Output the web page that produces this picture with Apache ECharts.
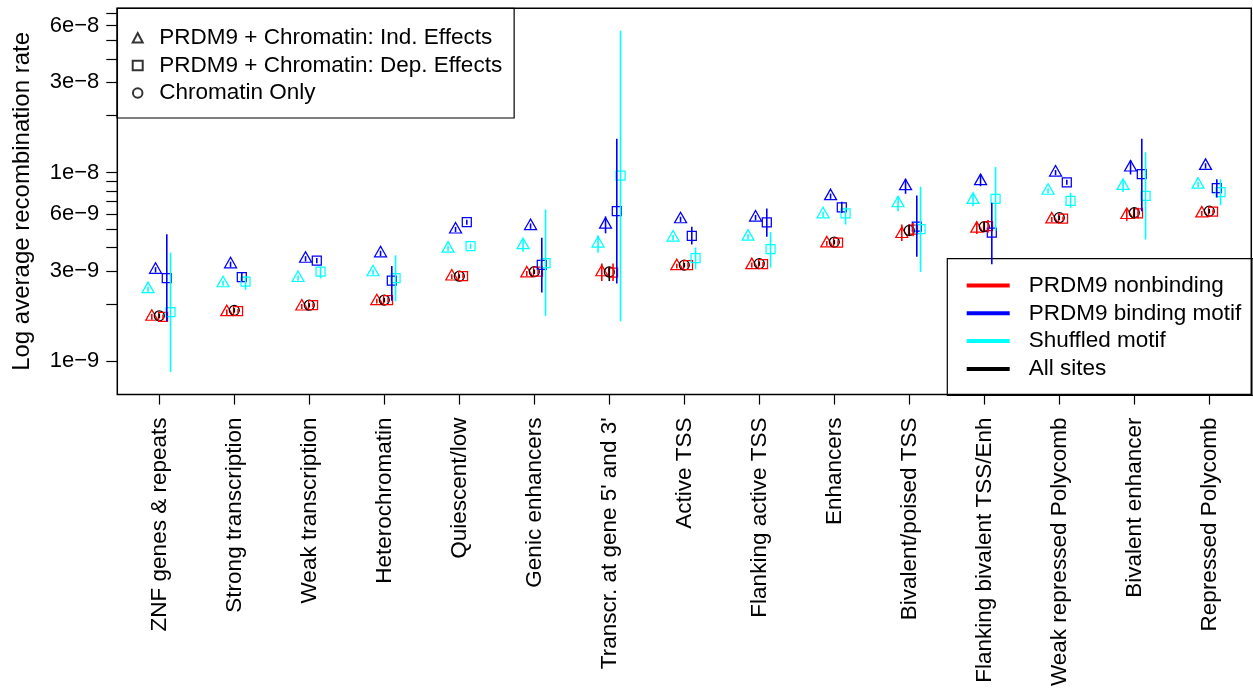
<!DOCTYPE html>
<html>
<head>
<meta charset="utf-8">
<script src="https://cdn.jsdelivr.net/npm/echarts@6/dist/echarts.min.js"></script>
<style>html,body{margin:0;padding:0;background:#fff}#c{width:1253px;height:689px}</style>
</head>
<body>
<div id="c"></div>
<script>
// ---------- data ----------
const categories = ["ZNF genes & repeats","Strong transcription","Weak transcription","Heterochromatin",
  "Quiescent/low","Genic enhancers","Transcr. at gene 5' and 3'","Active TSS","Flanking active TSS",
  "Enhancers","Bivalent/poised TSS","Flanking bivalent TSS/Enh","Weak repressed Polycomb",
  "Bivalent enhancer","Repressed Polycomb"];

const yTickValues = [1e-9,2e-9,3e-9,4e-9,5e-9,6e-9,7e-9,8e-9,9e-9,1e-8,2e-8,3e-8,4e-8,5e-8,6e-8,7e-8];
const yLabelValues = [1e-9,3e-9,6e-9,1e-8,3e-8,6e-8];
const yLabelTexts = ["1e\u22129","3e\u22129","6e\u22129","1e\u22128","3e\u22128","6e\u22128"];

// PRDM9 + Chromatin: Ind. Effects (triangles)
const nbInd   = [1.72e-9,1.82e-9,1.95e-9,2.08e-9,2.81e-9,2.92e-9,2.96e-9,3.19e-9,3.23e-9,4.21e-9,4.72e-9,5.04e-9,5.64e-9,5.95e-9,6.07e-9];
const nbIndLo = [1.66e-9,1.76e-9,1.89e-9,2.02e-9,2.73e-9,2.83e-9,2.66e-9,3.10e-9,3.13e-9,4.09e-9,4.33e-9,4.72e-9,5.47e-9,5.55e-9,5.88e-9];
const nbIndHi = [1.78e-9,1.88e-9,2.01e-9,2.14e-9,2.89e-9,3.01e-9,3.29e-9,3.28e-9,3.33e-9,4.33e-9,5.30e-9,5.40e-9,5.81e-9,6.40e-9,6.26e-9];

const bdInd   = [3.05e-9,3.26e-9,3.49e-9,3.73e-9,4.99e-9,5.20e-9,5.29e-9,5.65e-9,5.77e-9,7.49e-9,8.46e-9,9.00e-9,9.99e-9,1.063e-8,1.084e-8];
const bdIndLo = [2.95e-9,3.15e-9,3.38e-9,3.61e-9,4.83e-9,5.03e-9,4.76e-9,5.47e-9,5.58e-9,7.25e-9,7.71e-9,8.46e-9,9.67e-9,9.76e-9,1.049e-8];
const bdIndHi = [3.15e-9,3.37e-9,3.60e-9,3.85e-9,5.15e-9,5.37e-9,5.85e-9,5.83e-9,5.96e-9,7.73e-9,9.26e-9,9.76e-9,1.031e-8,1.16e-8,1.119e-8];

const shInd   = [2.41e-9,2.59e-9,2.76e-9,2.96e-9,3.95e-9,4.12e-9,4.20e-9,4.52e-9,4.57e-9,6.00e-9,6.87e-9,7.16e-9,8.00e-9,8.49e-9,8.62e-9];
const shIndLo = [2.33e-9,2.51e-9,2.67e-9,2.87e-9,3.82e-9,3.80e-9,3.76e-9,4.38e-9,4.42e-9,5.81e-9,6.24e-9,6.63e-9,7.75e-9,7.87e-9,8.35e-9];
const shIndHi = [2.49e-9,2.67e-9,2.85e-9,3.05e-9,4.08e-9,4.48e-9,4.63e-9,4.66e-9,4.72e-9,6.19e-9,7.49e-9,7.81e-9,8.25e-9,9.26e-9,8.89e-9];

// PRDM9 + Chromatin: Dep. Effects (squares)
const nbDep   = [1.72e-9,1.84e-9,1.98e-9,2.11e-9,2.82e-9,2.98e-9,2.95e-9,3.23e-9,3.27e-9,4.25e-9,4.98e-9,5.20e-9,5.69e-9,6.07e-9,6.20e-9];
const nbDepLo = [1.67e-9,1.79e-9,1.93e-9,2.05e-9,2.74e-9,2.89e-9,2.66e-9,3.14e-9,3.18e-9,4.13e-9,4.60e-9,4.80e-9,5.53e-9,5.70e-9,6.03e-9];
const nbDepHi = [1.77e-9,1.89e-9,2.03e-9,2.17e-9,2.90e-9,3.07e-9,3.29e-9,3.32e-9,3.36e-9,4.37e-9,5.40e-9,5.60e-9,5.85e-9,6.50e-9,6.37e-9];

const bdDep   = [2.76e-9,2.79e-9,3.41e-9,2.67e-9,5.45e-9,3.24e-9,6.24e-9,4.62e-9,5.44e-9,6.54e-9,5.17e-9,4.80e-9,8.87e-9,9.80e-9,8.26e-9];
const bdDepLo = [1.63e-9,2.65e-9,3.30e-9,2.09e-9,5.28e-9,2.31e-9,2.58e-9,4.16e-9,4.57e-9,6.10e-9,3.58e-9,3.26e-9,8.60e-9,6.24e-9,7.36e-9];
const bdDepHi = [4.70e-9,2.95e-9,3.52e-9,3.20e-9,5.62e-9,4.51e-9,1.51e-8,5.16e-9,6.45e-9,7.00e-9,7.56e-9,6.91e-9,9.14e-9,1.51e-8,9.20e-9];

const shDep   = [1.82e-9,2.64e-9,2.98e-9,2.76e-9,4.07e-9,3.31e-9,9.62e-9,3.52e-9,3.92e-9,6.08e-9,5.01e-9,7.24e-9,7.08e-9,7.51e-9,7.86e-9];
const shDepLo = [8.78e-10,2.39e-9,2.75e-9,2.08e-9,3.94e-9,1.74e-9,1.63e-9,3.07e-9,3.13e-9,5.30e-9,2.97e-9,4.89e-9,6.50e-9,4.42e-9,6.70e-9];
const shDepHi = [3.76e-9,2.83e-9,3.15e-9,3.64e-9,4.20e-9,6.37e-9,5.64e-8,4.00e-9,4.83e-9,6.52e-9,8.40e-9,1.07e-8,7.81e-9,1.28e-8,9.20e-9];

// Chromatin Only (circles), all sites
const allChr   = [1.74e-9,1.86e-9,1.98e-9,2.11e-9,2.82e-9,2.98e-9,2.97e-9,3.23e-9,3.29e-9,4.28e-9,4.93e-9,5.16e-9,5.76e-9,6.12e-9,6.24e-9];
const allChrLo = [1.69e-9,1.81e-9,1.93e-9,2.05e-9,2.75e-9,2.90e-9,2.66e-9,3.14e-9,3.20e-9,4.16e-9,4.60e-9,4.85e-9,5.60e-9,5.70e-9,6.07e-9];
const allChrHi = [1.79e-9,1.91e-9,2.03e-9,2.17e-9,2.89e-9,3.06e-9,3.16e-9,3.32e-9,3.38e-9,4.40e-9,5.30e-9,5.50e-9,5.92e-9,6.50e-9,6.41e-9];

const modelNames = ["PRDM9 + Chromatin: Ind. Effects","PRDM9 + Chromatin: Dep. Effects","Chromatin Only"];
const groupNames = ["PRDM9 nonbinding","PRDM9 binding motif","Shuffled motif","All sites"];

// ---------- styling / build ----------
const FONT = "'Liberation Sans', Arial, Helvetica, sans-serif";
const RED = '#FF0000', BLUE = '#0000FF', CYAN = '#00FFFF', BLACK = '#000000';
const L = Math.log10;
const yMin = 6.66e-10, yMax = 7.41e-8;
const catPos = categories.map((c, i) => i + 1);

function pts(vals, off) { return vals.map((v, i) => [i + 1 + off, L(v)]); }
function errs(lo, hi, off) { return lo.map((l, i) => [i + 1 + off, L(l), L(hi[i])]); }

const TRI = [12, 10.5], SQ = 9, CIR = 10;
function scatter(name, vals, off, color, symbol, size, offset) {
  return {
    type: 'scatter', name: name, data: pts(vals, off), symbol: symbol, symbolSize: size,
    symbolOffset: offset || [0, 0], z: 3, silent: true,
    itemStyle: { color: 'rgba(0,0,0,0)', borderColor: color, borderWidth: 1.25, opacity: 1 }
  };
}
function errSeries(lo, hi, off, color) {
  return {
    type: 'custom', data: errs(lo, hi, off), z: 4, silent: true,
    encode: { x: 0, y: [1, 2] },
    renderItem: function (params, api) {
      const p1 = api.coord([api.value(0), api.value(1)]);
      const p2 = api.coord([api.value(0), api.value(2)]);
      return { type: 'line', shape: { x1: p1[0], y1: p1[1], x2: p2[0], y2: p2[1] },
               style: { stroke: color, lineWidth: 1.6 } };
    }
  };
}

const triOff = [0, -1.75];
const series = [
  scatter('shInd', shInd, -0.15, CYAN, 'triangle', TRI, triOff),
  scatter('nbInd', nbInd, -0.10, RED, 'triangle', TRI, triOff),
  scatter('bdInd', bdInd, -0.05, BLUE, 'triangle', TRI, triOff),
  scatter('allChr', allChr, 0, BLACK, 'circle', CIR),
  scatter('nbDep', nbDep, 0.05, RED, 'rect', SQ),
  scatter('bdDep', bdDep, 0.10, BLUE, 'rect', SQ),
  scatter('shDep', shDep, 0.15, CYAN, 'rect', SQ),
  errSeries(shIndLo, shIndHi, -0.15, CYAN),
  errSeries(nbIndLo, nbIndHi, -0.10, RED),
  errSeries(bdIndLo, bdIndHi, -0.05, BLUE),
  errSeries(allChrLo, allChrHi, 0, BLACK),
  errSeries(nbDepLo, nbDepHi, 0.05, RED),
  errSeries(bdDepLo, bdDepHi, 0.10, BLUE),
  errSeries(shDepLo, shDepHi, 0.15, CYAN),
  // legend-only series (no data)
  { type: 'scatter', name: modelNames[0], data: [], symbol: 'triangle',
    itemStyle: { color: 'rgba(0,0,0,0)', borderColor: BLACK, borderWidth: 1 } },
  { type: 'scatter', name: modelNames[1], data: [], symbol: 'rect',
    itemStyle: { color: 'rgba(0,0,0,0)', borderColor: BLACK, borderWidth: 1 } },
  { type: 'scatter', name: modelNames[2], data: [], symbol: 'circle',
    itemStyle: { color: 'rgba(0,0,0,0)', borderColor: BLACK, borderWidth: 1 } },
  { type: 'line', name: groupNames[0], data: [], symbol: 'none', itemStyle: { color: RED }, lineStyle: { color: RED, width: 4 } },
  { type: 'line', name: groupNames[1], data: [], symbol: 'none', itemStyle: { color: BLUE }, lineStyle: { color: BLUE, width: 4 } },
  { type: 'line', name: groupNames[2], data: [], symbol: 'none', itemStyle: { color: CYAN }, lineStyle: { color: CYAN, width: 4 } },
  { type: 'line', name: groupNames[3], data: [], symbol: 'none', itemStyle: { color: BLACK }, lineStyle: { color: BLACK, width: 4 } }
];

// thick horizontal bar icon (43 x 14 box, 4px bar in the middle)
const barIcon = 'path://M0,0 M43,14 M0,5 L43,5 L43,9 L0,9 Z';

const chart = echarts.init(document.getElementById('c'), null, { renderer: 'canvas' });
chart.setOption({
  animation: false,
  backgroundColor: '#fff',
  textStyle: { fontFamily: FONT },
  grid: { left: 117.3, right: 1.7, top: 8.3, bottom: 294, show: true,
          borderColor: '#000', borderWidth: 1.5, backgroundColor: 'rgba(0,0,0,0)' },
  xAxis: {
    type: 'value', min: 0.44, max: 15.56,
    axisLine: { show: false }, splitLine: { show: false },
    axisTick: { show: true, length: 10, lineStyle: { color: '#000', width: 1.2 }, customValues: catPos },
    axisLabel: { show: true, customValues: catPos, rotate: 90, margin: 23, fontSize: 22.5,
                 color: '#000', fontFamily: FONT,
                 formatter: function (v) { return categories[Math.round(v) - 1]; } }
  },
  yAxis: {
    type: 'value', min: L(yMin), max: L(yMax),
    name: 'Log average recombination rate', nameLocation: 'middle', nameRotate: 90, nameGap: 83,
    nameTextStyle: { fontSize: 24, color: '#000', fontFamily: FONT },
    axisLine: { show: false }, splitLine: { show: false },
    axisTick: { show: true, length: 11, lineStyle: { color: '#000', width: 1.2 }, customValues: yTickValues.map(L) },
    axisLabel: { show: true, customValues: yLabelValues.map(L), margin: 18, fontSize: 22, color: '#000', fontFamily: FONT,
                 formatter: function (v) {
                   let best = 0, d = Infinity;
                   yLabelValues.forEach(function (t, i) { const dd = Math.abs(L(t) - v); if (dd < d) { d = dd; best = i; } });
                   return yLabelTexts[best];
                 } }
  },
  legend: [
    { data: modelNames, orient: 'vertical', align: 'left', left: 117, top: 8.3,
      padding: [18, 12, 13.5, 14.7], itemGap: 4.6, itemWidth: 10, itemHeight: 9.5,
      selectedMode: false,
      borderColor: '#000', borderWidth: 1.2, backgroundColor: 'rgba(0,0,0,0)',
      textStyle: { fontSize: 22.5, color: '#000', fontFamily: FONT, lineHeight: 22, padding: [0, 0, 0, 11.6] } },
    { data: groupNames.map(function (n) { return { name: n, icon: barIcon }; }),
      orient: 'vertical', align: 'left', left: 947.3, top: 258.7,
      padding: [15.3, 11.8, 15.0, 19.4], itemGap: 4.8, itemWidth: 43, itemHeight: 14,
      selectedMode: false,
      borderColor: '#000', borderWidth: 1.2, backgroundColor: 'rgba(0,0,0,0)',
      textStyle: { fontSize: 22.5, color: '#000', fontFamily: FONT, lineHeight: 22, padding: [0, 0, 0, 14] } }
  ],
  series: series
});
</script>
</body>
</html>
